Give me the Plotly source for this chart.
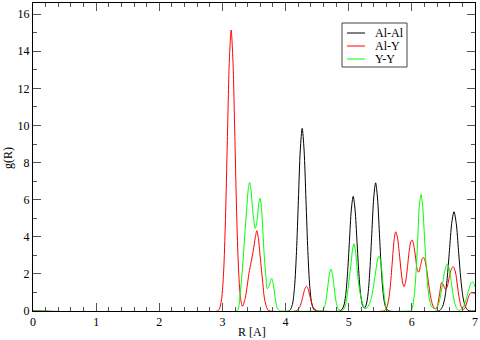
import plotly.graph_objects as go

# Al-Al (black)
alal_x = [0.0, 4.05, 4.083, 4.113, 4.143, 4.173, 4.203, 4.233, 4.263, 4.293, 4.323, 4.353, 4.383, 4.413, 4.443, 4.48,
          4.86, 4.891, 4.921, 4.951, 4.981, 5.011, 5.041, 5.071, 5.101, 5.131, 5.161, 5.191, 5.221, 5.249,
          5.276, 5.306, 5.336, 5.366, 5.396, 5.426, 5.456, 5.486, 5.516, 5.546, 5.576, 5.606, 5.64,
          6.42, 6.451, 6.487, 6.523, 6.559, 6.595, 6.631, 6.667, 6.703, 6.739, 6.775, 6.811, 6.847, 6.883, 6.92, 7.0]
alal_y = [0.0, 0.0, 0.11, 0.43, 1.33, 3.2, 5.97, 8.68, 9.84, 8.68, 5.97, 3.2, 1.33, 0.43, 0.11, 0.0,
          0.0, 0.07, 0.27, 0.83, 2.01, 3.75, 5.45, 6.18, 5.45, 3.75, 2.01, 0.83, 0.29, 0.16,
          0.32, 0.93, 2.25, 4.19, 6.09, 6.91, 6.09, 4.19, 2.25, 0.93, 0.3, 0.08, 0.0,
          0.0, 0.06, 0.24, 0.72, 1.74, 3.25, 4.72, 5.35, 4.72, 3.25, 1.74, 0.72, 0.24, 0.06, 0.0, 0.0]

# Al-Y (red)
aly_x = [0.0, 2.92, 2.958, 2.988, 3.018, 3.048, 3.078, 3.108, 3.138, 3.168, 3.198, 3.228, 3.258, 3.288, 3.318,
         3.36, 3.39, 3.42, 3.455, 3.49, 3.52, 3.545, 3.57, 3.593, 3.635, 3.67, 3.72, 3.76,
         4.16, 4.22, 4.248, 4.275, 4.303, 4.33, 4.358, 4.385, 4.413, 4.44, 4.495, 4.53,
         5.55, 5.58, 5.61, 5.64, 5.67, 5.70, 5.72, 5.743, 5.77, 5.80, 5.83, 5.855, 5.875, 5.90, 5.93, 5.96,
         5.985, 6.005, 6.03, 6.06, 6.09, 6.11, 6.14, 6.165, 6.185, 6.21, 6.24, 6.27, 6.30, 6.33, 6.36, 6.385,
         6.41, 6.44, 6.472, 6.50, 6.53, 6.56, 6.59, 6.625, 6.656, 6.69, 6.72, 6.75, 6.78, 6.81, 6.84, 6.87,
         6.90, 6.93, 6.95, 6.98, 7.0]
aly_y = [0.0, 0.0, 0.17, 0.67, 2.04, 4.92, 9.19, 13.35, 15.14, 13.35, 9.19, 4.92, 2.04, 0.67, 0.25,
         0.68, 1.3, 2.03, 2.65, 3.29, 3.95, 4.33, 3.9, 3.1, 1.67, 0.59, 0.05, 0.0,
         0.0, 0.18, 0.44, 0.8, 1.17, 1.33, 1.17, 0.8, 0.44, 0.18, 0.02, 0.0,
         0.0, 0.06, 0.27, 0.78, 1.77, 3.1, 3.85, 4.27, 4.0, 3.15, 2.15, 1.5, 1.31, 1.55, 2.35, 3.3,
         3.75, 3.83, 3.55, 2.85, 2.15, 2.1, 2.5, 2.82, 2.89, 2.7, 2.1, 1.35, 0.72, 0.32, 0.14, 0.12,
         0.35, 0.95, 1.53, 1.4, 1.18, 1.3, 1.8, 2.25, 2.39, 2.1, 1.4, 0.7, 0.25, 0.08, 0.15, 0.45,
         0.8, 0.97, 0.99, 0.96, 0.93]

# Y-Y (green)
yy_x = [0.0, 3.22, 3.25, 3.28, 3.31, 3.334, 3.36, 3.387, 3.41, 3.43, 3.45, 3.48, 3.52, 3.55, 3.575, 3.595,
        3.615, 3.64, 3.66, 3.69, 3.71, 3.74, 3.778, 3.81, 3.84, 3.87, 3.90, 3.93,
        4.55, 4.58, 4.61, 4.64, 4.67, 4.695, 4.718, 4.74, 4.77, 4.80, 4.83, 4.86, 4.88,
        4.90, 4.93, 4.95, 4.97, 4.99, 5.01, 5.035, 5.06, 5.083, 5.105, 5.13, 5.15, 5.175, 5.204, 5.23, 5.26,
        5.29, 5.33, 5.363, 5.40, 5.43, 5.46, 5.483, 5.51, 5.537, 5.57, 5.60, 5.63,
        5.97, 5.99, 6.01, 6.04, 6.07, 6.095, 6.117, 6.144, 6.17, 6.195, 6.22, 6.25, 6.28, 6.31, 6.34, 6.37,
        6.40, 6.43, 6.46, 6.49, 6.52, 6.56, 6.59, 6.62, 6.65, 6.68, 6.71, 6.74, 6.77,
        6.81, 6.84, 6.87, 6.90, 6.93, 6.96, 6.98, 7.0]
yy_y = [0.0, 0.0, 0.1, 0.9, 2.0, 3.1, 4.4, 5.62, 6.6, 6.93, 6.6, 5.4, 4.45, 4.9, 5.8, 6.07,
        5.7, 4.3, 3.1, 1.8, 1.2, 1.35, 1.76, 1.35, 0.6, 0.15, 0.02, 0.0,
        0.0, 0.03, 0.16, 0.57, 1.37, 2.0, 2.26, 2.02, 1.25, 0.5, 0.14, 0.03, 0.0,
        0.02, 0.15, 0.32, 0.7, 1.22, 1.8, 2.48, 3.3, 3.62, 3.3, 2.4, 1.67, 1.05, 0.59, 0.3, 0.14,
        0.17, 0.4, 0.77, 1.5, 2.2, 2.8, 2.96, 2.6, 1.67, 0.59, 0.08, 0.0,
        0.0, 0.0, 0.2, 0.9, 2.3, 4.0, 5.6, 6.27, 5.7, 4.3, 2.8, 1.4, 0.6, 0.25, 0.15, 0.12,
        0.2, 0.45, 0.95, 1.55, 2.15, 2.54, 2.3, 1.65, 0.95, 0.42, 0.14, 0.04, 0.05,
        0.2, 0.42, 0.75, 1.12, 1.45, 1.57, 1.5, 1.3]

series_names = ["Al-Al", "Al-Y", "Y-Y"]
series_colors = ["#000000", "#ff0000", "#00ff00"]
series_x = [alal_x, aly_x, yy_x]
series_y = [alal_y, aly_y, yy_y]

x_ticks = [0, 1, 2, 3, 4, 5, 6, 7]
y_ticks = [0, 2, 4, 6, 8, 10, 12, 14, 16]

W, H = 480, 340
L, R, T, B = 33, 5, 3, 29
pw, ph = W - L - R, H - T - B


def px(xp):
    return (xp - L) / pw


def py(yp):
    return (H - B - yp) / ph


fig = go.Figure()
for name, xs, ys, col in zip(series_names, series_x, series_y, series_colors):
    fig.add_trace(go.Scatter(x=xs, y=ys, name=name, mode="lines", showlegend=False,
                             line=dict(color=col, width=1, shape="spline", smoothing=0.8)))

serif = "Liberation Serif"
axis_common = dict(showline=True, linecolor="black", linewidth=1, mirror="ticks",
                   ticks="inside", tickcolor="#555555", ticklen=8, tickwidth=1,
                   showgrid=False, zeroline=False, automargin=False, layer="above traces",
                   tickfont=dict(family=serif, size=12, color="black"))
fig.update_xaxes(range=[0, 7], tickvals=x_ticks, ticktext=[str(v) for v in x_ticks],
                 minor=dict(ticks="inside", ticklen=4, tickcolor="#555555", dtick=0.2, showgrid=False),
                 **axis_common)
fig.update_yaxes(range=[0, 16.6], tickvals=y_ticks, ticktext=[str(v) for v in y_ticks],
                 minor=dict(ticks="inside", ticklen=4, tickcolor="#555555", dtick=1, showgrid=False),
                 **axis_common)

annotations = [
    dict(text="R [A]", x=px(252), y=py(332), xref="paper", yref="paper", showarrow=False,
         xanchor="center", yanchor="middle", font=dict(family=serif, size=12, color="black")),
    dict(text="g(R)", x=px(8), y=py(158), xref="paper", yref="paper", showarrow=False, textangle=-90,
         xanchor="center", yanchor="middle", font=dict(family=serif, size=12, color="black")),
]
shapes = [dict(type="rect", xref="paper", yref="paper", x0=px(342), x1=px(407), y0=py(67), y1=py(23),
               line=dict(color="#444444", width=1), fillcolor="white", layer="above")]
row_y = [33, 46, 59]
for name, col, ry in zip(series_names, series_colors, row_y):
    shapes.append(dict(type="line", xref="paper", yref="paper", x0=px(347), x1=px(365), y0=py(ry), y1=py(ry),
                       line=dict(color=col, width=1), layer="above"))
    annotations.append(dict(text=name, x=px(373), y=py(ry), xref="paper", yref="paper", showarrow=False,
                            xanchor="left", yanchor="middle",
                            font=dict(family=serif, size=12, color="black")))

fig.update_layout(width=W, height=H, margin=dict(l=L, r=R, t=T, b=B, autoexpand=False),
                  paper_bgcolor="white", plot_bgcolor="white", showlegend=False,
                  annotations=annotations, shapes=shapes)
fig.write_html("out.html", config={"displayModeBar": False, "staticPlot": True},
               post_script="document.body.style.margin='0';document.body.style.padding='0';"
                           "document.body.style.overflow='hidden';")
